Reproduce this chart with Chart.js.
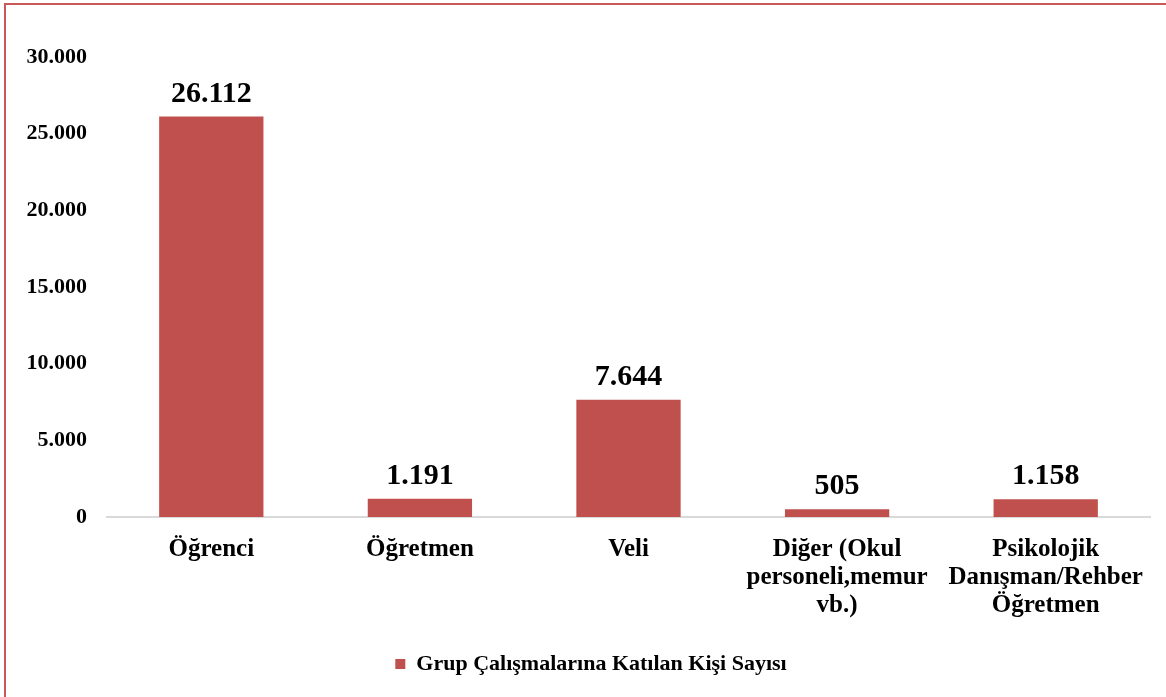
<!DOCTYPE html>
<html lang="tr">
<head>
<meta charset="utf-8">
<title>Grup Çalışmalarına Katılan Kişi Sayısı</title>
<script src="https://cdn.jsdelivr.net/npm/chart.js@4/dist/chart.umd.min.js"></script>
<style>
  html, body { margin: 0; padding: 0; background: #fff; overflow: hidden; }
  #wrap { position: relative; width: 1166px; height: 697px; }
  #frame {
    position: absolute; left: 4px; top: 3px; right: -10px; bottom: -10px;
    border-top: 2px solid #c9585a; border-left: 2px solid #c9585a;
    pointer-events: none;
  }
  canvas { position: absolute; left: 0; top: 0; }
</style>
</head>
<body>
<div id="wrap">
  <canvas id="chart-groups" width="1166" height="697"></canvas>
  <div id="frame"></div>
</div>
<script>
// ── DATA ──────────────────────────────
const categories = [
  'Öğrenci',
  'Öğretmen',
  'Veli',
  ['Diğer (Okul', 'personeli,memur', 'vb.)'],
  ['Psikolojik', 'Danışman/Rehber', 'Öğretmen'],
];
const participants = [26112, 1191, 7644, 505, 1158];
const seriesLabel  = 'Grup Çalışmalarına Katılan Kişi Sayısı';
const yTicks       = { min: 0, max: 30000, step: 5000 };

const FONT = '"Liberation Serif", "Times New Roman", serif';
const BAR  = '#C0504D';

// 26112 -> "26.112"
function fmtTr(v) {
  return String(v).replace(/\B(?=(\d{3})+(?!\d))/g, '.');
}

// ── VALUE LABELS ──────────────────────
const valueLabels = {
  id: 'valueLabels',
  afterDatasetsDraw(chart) {
    const { ctx } = chart;
    const meta = chart.getDatasetMeta(0);
    ctx.save();
    ctx.font = `bold 30px ${FONT}`;
    ctx.fillStyle = '#000';
    ctx.textAlign = 'center';
    ctx.textBaseline = 'alphabetic';
    meta.data.forEach((bar, i) => {
      ctx.fillText(fmtTr(chart.data.datasets[0].data[i]), bar.x, bar.y - 15);
    });
    ctx.restore();
  },
};

// legend sits a little right of the canvas centre in the original
const legendNudge = {
  id: 'legendNudge',
  afterLayout(chart) {
    const lg = chart.legend;
    if (!lg) return;
    lg.left += 16;
    lg.right += 16;
  },
};

new Chart(document.getElementById('chart-groups'), {
  type: 'bar',
  data: {
    labels: categories,
    datasets: [{
      label: seriesLabel,
      data: participants,
      backgroundColor: BAR,
      borderWidth: 0,
      barPercentage: 0.5,
      categoryPercentage: 1,
    }],
  },
  options: {
    responsive: false,
    animation: false,
    layout: { padding: { top: 57, left: 0, right: 16, bottom: 12 } },
    plugins: {
      legend: {
        position: 'bottom',
        labels: {
          boxWidth: 10,
          boxHeight: 10,
          padding: 10,
          color: '#000',
          font: { family: FONT, size: 22, weight: 'bold' },
        },
      },
      tooltip: { enabled: false },
    },
    scales: {
      x: {
        grid: { display: false, drawTicks: false },
        border: { display: true, color: '#d9d9d9', width: 2 },
        ticks: {
          color: '#000',
          padding: 19,
          maxRotation: 0,
          autoSkip: false,
          font: { family: FONT, size: 25, weight: 'bold', lineHeight: '28px' },
        },
        afterFit: s => { s.height = 126; },
      },
      y: {
        min: yTicks.min,
        max: yTicks.max,
        grid: { display: false, drawTicks: false },
        border: { display: false },
        ticks: {
          stepSize: yTicks.step,
          color: '#000',
          padding: 20,
          font: { family: FONT, size: 22, weight: 'bold' },
          callback: v => fmtTr(v),
        },
        afterFit: s => { s.width = 107; },
      },
    },
  },
  plugins: [valueLabels, legendNudge],
});
</script>
</body>
</html>
